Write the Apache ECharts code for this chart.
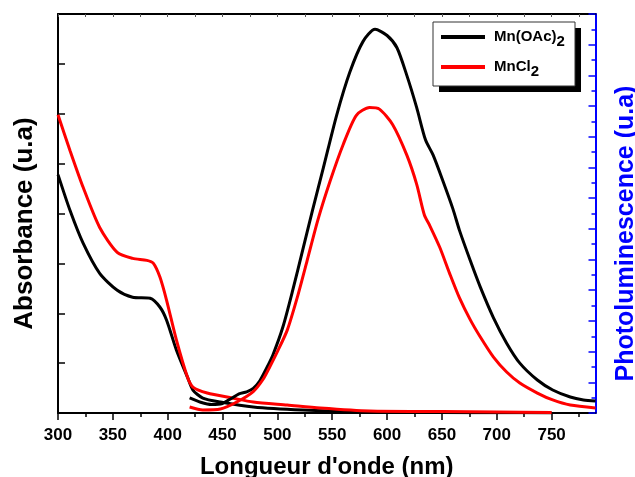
<!DOCTYPE html>
<html>
<head>
<meta charset="utf-8">
<script src="https://cdn.jsdelivr.net/npm/echarts@6/dist/echarts.min.js"></script>
<style>
html,body{margin:0;padding:0;background:#fff;overflow:hidden;}
#chart{width:635px;height:477px;}
</style>
</head>
<body>
<div id="chart"></div>
<script>
// ---- Data ----
const seriesNames = ['Mn(OAc)2', 'MnCl2'];
const xTickLabels = [300, 350, 400, 450, 500, 550, 600, 650, 700, 750];
const xMinorTicks = [325, 375, 425, 475, 525, 575, 625, 675, 725, 775];

// Absorbance (left axis)
const wlAbsBlack = [300, 311, 323, 338, 354, 368, 384, 393, 399, 408, 418, 423, 432, 448, 478, 523, 584, 650, 700, 750];
const absBlack   = [4.78, 4.06, 3.40, 2.80, 2.46, 2.32, 2.30, 2.12, 1.86, 1.26, 0.72, 0.46, 0.30, 0.22, 0.12, 0.06, 0.02, 0.01, 0.005, 0];
const wlAbsRed = [300, 311, 323, 338, 354, 368, 381, 387, 393, 399, 408, 418, 423, 436, 459, 478, 509, 539, 584, 650, 700, 750];
const absRed   = [5.98, 5.26, 4.52, 3.72, 3.22, 3.10, 3.06, 3.00, 2.72, 2.26, 1.46, 0.72, 0.52, 0.40, 0.30, 0.22, 0.16, 0.10, 0.04, 0.03, 0.02, 0.01];

// Photoluminescence (right axis)
const wlPLBlack = [420, 430, 440, 450, 458, 465, 472, 478, 484, 490, 496, 505, 514, 523, 532, 542, 554, 566, 578, 589, 600, 609, 618, 627, 635, 642, 651, 660, 666, 676, 685, 697, 709, 721, 737, 751, 767, 779, 790];
const plBlack   = [0.98, 0.70, 0.55, 0.62, 0.95, 1.25, 1.38, 1.60, 2.10, 2.90, 3.80, 5.60, 8.00, 10.6, 13.2, 16.0, 19.4, 22.2, 24.2, 25.0, 24.6, 23.8, 22.0, 19.9, 17.8, 16.8, 15.1, 13.3, 11.9, 9.9, 8.2, 6.2, 4.55, 3.25, 2.15, 1.5, 1.04, 0.85, 0.78];
const wlPLRed = [420, 432, 448, 463, 478, 487, 493, 500, 509, 518, 527, 537, 548, 560, 572, 584, 593, 605, 618, 627, 634, 639, 648, 657, 666, 676, 685, 697, 709, 721, 737, 751, 767, 790];
const plRed   = [0.39, 0.20, 0.26, 0.72, 1.40, 2.20, 3.00, 4.00, 5.40, 7.50, 9.90, 12.6, 15.1, 17.5, 19.4, 19.9, 19.8, 18.8, 16.8, 14.9, 12.9, 12.2, 10.8, 9.1, 7.5, 6.05, 4.95, 3.64, 2.67, 1.95, 1.30, 0.85, 0.52, 0.33];

const zip = (xs, ys) => xs.map((x, i) => [x, ys[i]]);

const FONT = '"Liberation Sans", Arial, Helvetica, sans-serif';
const chart = echarts.init(document.getElementById('chart'), null, {renderer: 'canvas'});

function lineSeries(name, color, xs, ys, yIdx) {
  return {
    name: name, type: 'line', xAxisIndex: 0, yAxisIndex: yIdx,
    data: zip(xs, ys), smooth: 0.25, showSymbol: false, symbol: 'none',
    lineStyle: {color: color, width: 3}, itemStyle: {color: color},
    animation: false, z: 3
  };
}

const option = {
  animation: false,
  backgroundColor: '#fff',
  grid: {left: 58, right: 39.5, top: 14, bottom: 64, containLabel: false, outerBoundsMode: 'none'},
  graphic: [
    {type: 'rect', shape: {x: 439, y: 28, width: 142, height: 64}, style: {fill: '#000'}, z: 10},
    {type: 'rect', shape: {x: 433, y: 22, width: 142, height: 64}, style: {fill: '#fff', stroke: '#333', lineWidth: 1}, z: 11}
  ],
  legend: {
    orient: 'vertical', left: 436, top: 20, z: 20,
    itemWidth: 44, itemHeight: 4, itemGap: 6,
    icon: 'rect',
    data: seriesNames,
    formatter: function (n) {
      if (n === 'Mn(OAc)2') return '{a|Mn(OAc)}{s|2}';
      return '{a|MnCl}{s|2}';
    },
    textStyle: {
      padding: [0, 0, 0, 4],
      rich: {
        a: {fontFamily: FONT, fontWeight: 'bold', fontSize: 15, color: '#000', lineHeight: 22, verticalAlign: 'middle'},
        s: {fontFamily: FONT, fontWeight: 'bold', fontSize: 15, color: '#000', lineHeight: 22, padding: [9, 0, 0, 0], verticalAlign: 'middle'}
      }
    }
  },
  xAxis: [
    {
      type: 'value', position: 'bottom', min: 300, max: 790,
      name: "Longueur d'onde (nm)", nameLocation: 'middle', nameGap: 42,
      nameTextStyle: {fontFamily: FONT, fontWeight: 'bold', fontSize: 24, color: '#000'},
      axisLine: {show: true, onZero: false, lineStyle: {color: '#000', width: 2}},
      axisTick: {show: true, inside: false, length: 7, customValues: xTickLabels, lineStyle: {color: '#000', width: 1.5}},
      axisLabel: {show: true, customValues: xTickLabels, margin: 14, fontFamily: FONT, fontWeight: 'bold', fontSize: 17, color: '#000'},
      splitLine: {show: false}
    },
    {
      type: 'value', position: 'bottom', min: 300, max: 790,
      axisLine: {show: false, onZero: false},
      axisTick: {show: true, inside: false, length: 4, customValues: xMinorTicks, lineStyle: {color: '#000', width: 1.5}},
      axisLabel: {show: false},
      splitLine: {show: false}
    },
    {
      type: 'value', position: 'top', min: 300, max: 790,
      axisLine: {show: true, onZero: false, lineStyle: {color: '#000', width: 2}},
      axisTick: {show: true, inside: true, length: 3, customValues: xTickLabels.concat(xMinorTicks), lineStyle: {color: '#555', width: 1}},
      axisLabel: {show: false},
      splitLine: {show: false}
    }
  ],
  yAxis: [
    {
      type: 'value', position: 'left', min: 0, max: 8, interval: 1,
      name: 'Absorbance (u.a)', nameLocation: 'middle', nameGap: 20, nameRotate: 90,
      nameTextStyle: {fontFamily: FONT, fontWeight: 'bold', fontSize: 26, color: '#000', padding: [0, 20, 0, 0]},
      axisLine: {show: true, onZero: false, lineStyle: {color: '#000', width: 2}},
      axisTick: {show: true, inside: true, length: 7, lineStyle: {color: '#000', width: 1.5}},
      axisLabel: {show: false},
      splitLine: {show: false}
    },
    {
      type: 'value', position: 'right', min: 0, max: 26, interval: 2,
      name: 'Photoluminescence (u.a)', nameLocation: 'middle', nameGap: 18, nameRotate: 90,
      nameTextStyle: {fontFamily: FONT, fontWeight: 'bold', fontSize: 25, color: '#0000ff', padding: [0, 40, 0, 0]},
      axisLine: {show: true, onZero: false, lineStyle: {color: '#0000ff', width: 2}},
      axisTick: {show: true, inside: true, length: 7, lineStyle: {color: '#0000ff', width: 1.5}},
      minorTick: {show: true, splitNumber: 2, length: 4, lineStyle: {color: '#0000ff', width: 1.5}},
      axisLabel: {show: false},
      splitLine: {show: false}
    }
  ],
  series: [
    lineSeries(seriesNames[0], '#000000', wlAbsBlack, absBlack, 0),
    lineSeries(seriesNames[1], '#ff0000', wlAbsRed, absRed, 0),
    lineSeries(seriesNames[0], '#000000', wlPLBlack, plBlack, 1),
    lineSeries(seriesNames[1], '#ff0000', wlPLRed, plRed, 1)
  ]
};
chart.setOption(option);
</script>
</body>
</html>
